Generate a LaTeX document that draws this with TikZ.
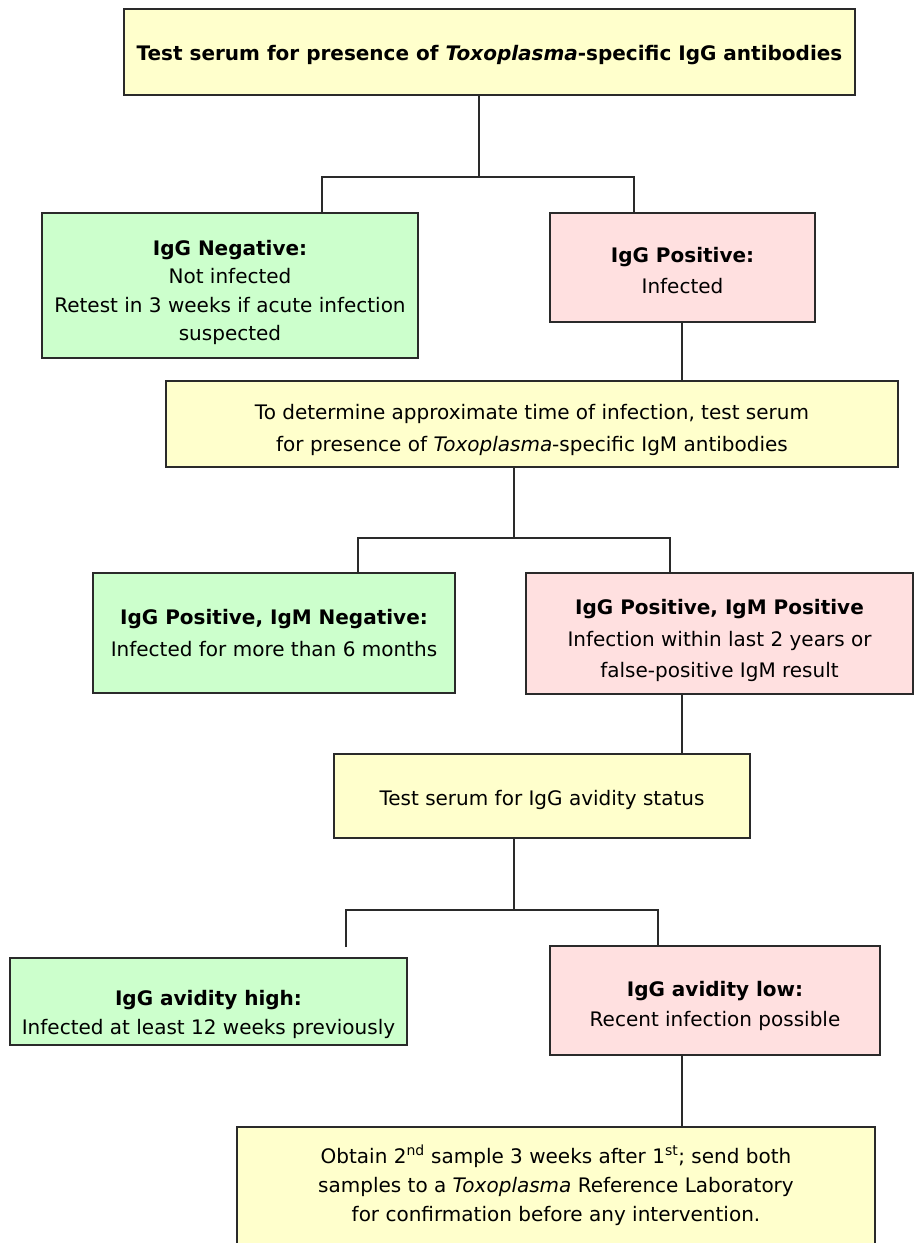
\documentclass[tikz,border=0pt]{standalone}
\usepackage{fontspec}
\setmainfont{DejaVu Sans}
\definecolor{yel}{HTML}{FFFFCC}
\definecolor{grn}{HTML}{CCFFCC}
\definecolor{pnk}{HTML}{FFE0E0}
\definecolor{edge}{HTML}{2A2A2A}
% #1 name, #2-#5 box corners (px), #6 fill colour, #7 text offset down, #8 line spacing, #9 text
\newcommand\mybox[9]{%
  \node[boxframe, fill=#6, minimum width={(#4-#2)*1pt}, minimum height={(#5-#3)*1pt}] (#1) at ({(#2+#4)/2},{-(#3+#5)/2}) {};
  \node[boxtext, font=\fontsize{20}{#8}\selectfont] (#1-t) at ([yshift=-#7pt]#1.center) {#9};}
\tikzset{
  boxframe/.style={draw=edge, line width=1.6pt, inner sep=0pt},
  boxtext/.style={align=center, inner sep=0pt},
  conn/.style={draw=edge, line width=1.6pt}
}
\begin{document}
\begin{tikzpicture}[x=1pt,y=1pt]
\useasboundingbox (0,0) rectangle (915,-1243);
\fill[white] (0,0) rectangle (915,-1243);
\mybox{top}{124}{9}{855}{95}{yel}{3}{31.5}{\textbf{Test serum for presence of \textit{Toxoplasma}-specific IgG antibodies}}
\mybox{neg}{42}{213}{418}{358}{grn}{7}{28.3}{\textbf{IgG Negative:}\\Not infected\\Retest in 3 weeks if acute infection\\suspected}
\mybox{pos}{550}{213}{815}{322}{pnk}{3}{31.5}{\textbf{IgG Positive:}\\Infected}
\mybox{igm}{166}{381}{898}{467}{yel}{6}{31.5}{To determine approximate time of infection, test serum\\for presence of \textit{Toxoplasma}-specific IgM antibodies}
\mybox{gtwo}{93}{573}{455}{693}{grn}{0}{31.5}{\textbf{IgG Positive, IgM Negative:}\\Infected for more than 6 months}
\mybox{ptwo}{526}{573}{913}{694}{pnk}{7}{31.5}{\textbf{IgG Positive, IgM Positive}\\Infection within last 2 years or\\false-positive IgM result}
\mybox{avid}{334}{754}{750}{838}{yel}{4}{31.5}{Test serum for IgG avidity status}
\mybox{gthree}{10}{958}{407}{1045}{grn}{13}{28.3}{\textbf{IgG avidity high:}\\Infected at least 12 weeks previously}
\mybox{pthree}{550}{946}{880}{1055}{pnk}{5}{30}{\textbf{IgG avidity low:}\\Recent infection possible}
\mybox{final}{237}{1127}{875}{1250}{yel}{-3}{29}{Obtain 2\textsuperscript{nd} sample 3 weeks after 1\textsuperscript{st}; send both\\samples to a \textit{Toxoplasma} Reference Laboratory\\for confirmation before any intervention.}
% junction coordinates
\coordinate (ja) at (479,-177);
\coordinate (la) at (322,-177);
\coordinate (ra) at (634,-177);
\coordinate (xb) at (682,0);
\coordinate (jc) at (514,-538);
\coordinate (lc) at (358,-538);
\coordinate (rc) at (670,-538);
\coordinate (jd) at (514,-910);
\coordinate (ld) at (346,-910);
\coordinate (rd) at (658,-910);
\coordinate (gapend) at (346,-947);
% connectors
\draw[conn] (top.south -| ja) -- (ja);
\draw[conn] (neg.north -| la) -- (la) -- (ra) -- (pos.north -| ra);
\draw[conn] (pos.south -| xb) -- (igm.north -| xb);
\draw[conn] (igm.south -| jc) -- (jc);
\draw[conn] (gtwo.north -| lc) -- (lc) -- (rc) -- (ptwo.north -| rc);
\draw[conn] (ptwo.south -| xb) -- (avid.north -| xb);
\draw[conn] (avid.south -| jd) -- (jd);
\draw[conn] (gapend) -- (ld) -- (rd) -- (pthree.north -| rd);
\draw[conn] (pthree.south -| xb) -- (final.north -| xb);
\end{tikzpicture}
\end{document}
